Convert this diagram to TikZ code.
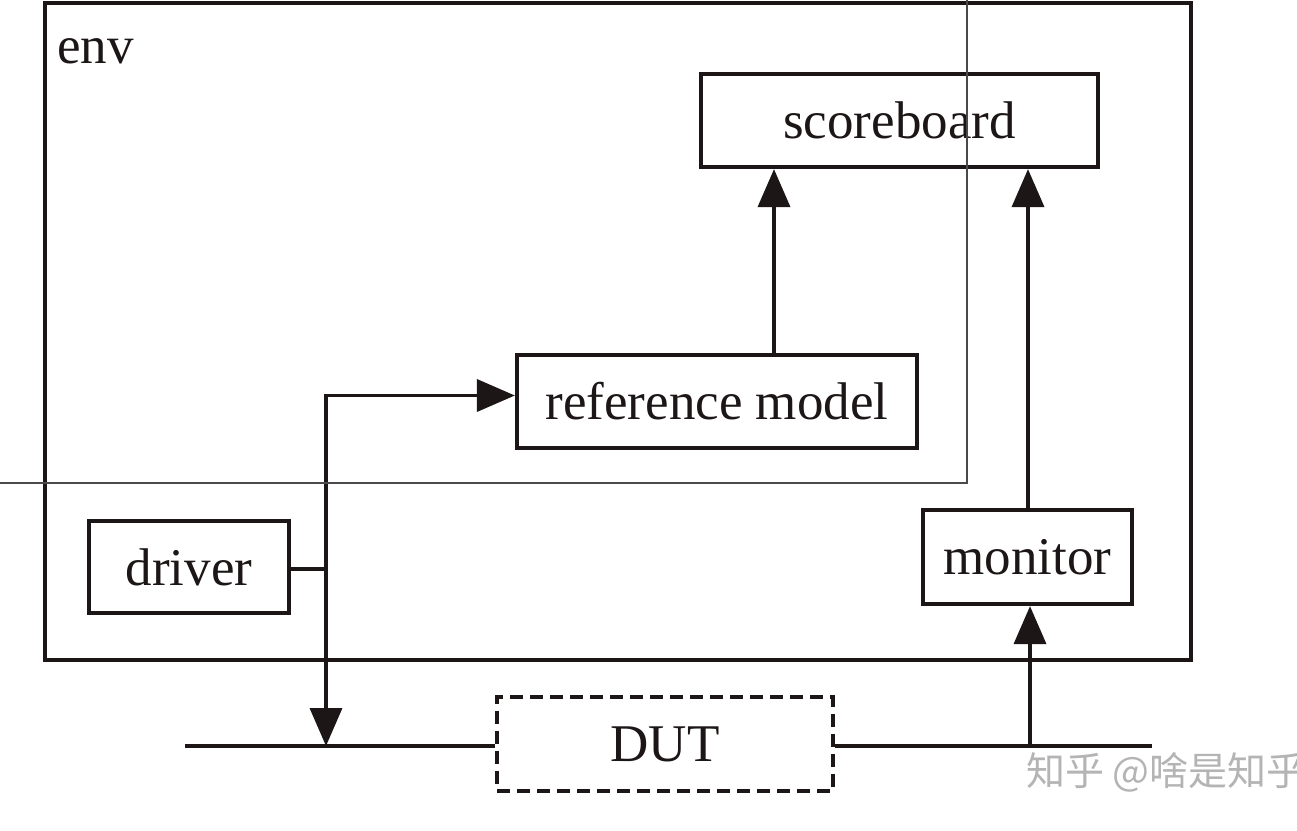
\documentclass[tikz,border=0pt]{standalone}
\usepackage{fontspec}
\setmainfont{Liberation Serif}
\newfontfamily\cjk{Noto Sans CJK SC}
\usetikzlibrary{arrows.meta}
\definecolor{ink}{HTML}{1C1616}
\definecolor{wmgray}{HTML}{B4B4B4}
\definecolor{framegray}{HTML}{4A4A4A}
\begin{document}
\begin{tikzpicture}[x=1pt,y=-1pt,
  box/.style={draw=ink, line width=4.2pt, inner sep=0pt, font=\fontsize{53}{60}\selectfont, text=ink},
  dutbox/.style={box, dash pattern=on 13pt off 7pt, line width=3.6pt},
  conn/.style={draw=ink, line width=3.6pt},
  tip/.style={-{Triangle[length=38pt,width=32pt]}}]
\useasboundingbox (0,0) rectangle (1297,830);
\fill[white] (0,0) rectangle (1297,830);

% env container
\node[box, minimum width=1146pt, minimum height=657pt] (envbox) at (618,331.5) {};
\node[anchor=base west, inner sep=0pt, font=\fontsize{53}{60}\selectfont, text=ink] (envlabel) at (57,63) {env};

% blocks
\node[box, minimum width=397pt, minimum height=93pt] (sb) at (899.5,120.5) {scoreboard};
\node[box, minimum width=400pt, minimum height=93pt] (rm) at (717,401.5) {reference model};
\node[box, minimum width=209pt, minimum height=94pt] (mon) at (1027.5,557) {monitor};
\node[box, minimum width=200pt, minimum height=92pt] (drv) at (189,567) {driver};
\node[dutbox, minimum width=336pt, minimum height=94pt] (dut) at (665,744) {DUT};

% bus
\coordinate (busL) at (185,746);
\coordinate (busR) at (1152,746);
\draw[conn] (busL) -- (busL -| dut.west);
\draw[conn] (busR -| dut.east) -- (busR);

% driver connections
\coordinate (jn) at (326,569);
\coordinate (rmin) at ([yshift=6pt]rm.west);
\draw[conn] (drv.east |- jn) -- (jn);
\draw[conn,tip] (jn) |- (rmin);
\draw[conn,tip] (jn) -- (jn |- busL);

% reference model -> scoreboard
\coordinate (rmtop) at ([xshift=57pt]rm.north);
\draw[conn,tip] (rmtop) -- (rmtop |- sb.south);

% DUT -> monitor -> scoreboard
\coordinate (montap) at (1030,746);
\draw[conn,tip] (montap) -- (montap |- mon.south);
\coordinate (montop) at (1028,0);
\draw[conn,tip] (montop |- mon.north) -- (montop |- sb.south);

% thin overlay frame
\draw[framegray, line width=1.3pt] (-1,-1) rectangle (967,483);

% watermark
\begin{scope}
\clip (0,0) rectangle (1297,830);
\node[anchor=west, inner sep=0pt, text=wmgray, font=\cjk\fontsize{39}{42}\selectfont] (wm) at (1026,772) {知乎 @啥是知乎};
\end{scope}
\end{tikzpicture}
\end{document}
